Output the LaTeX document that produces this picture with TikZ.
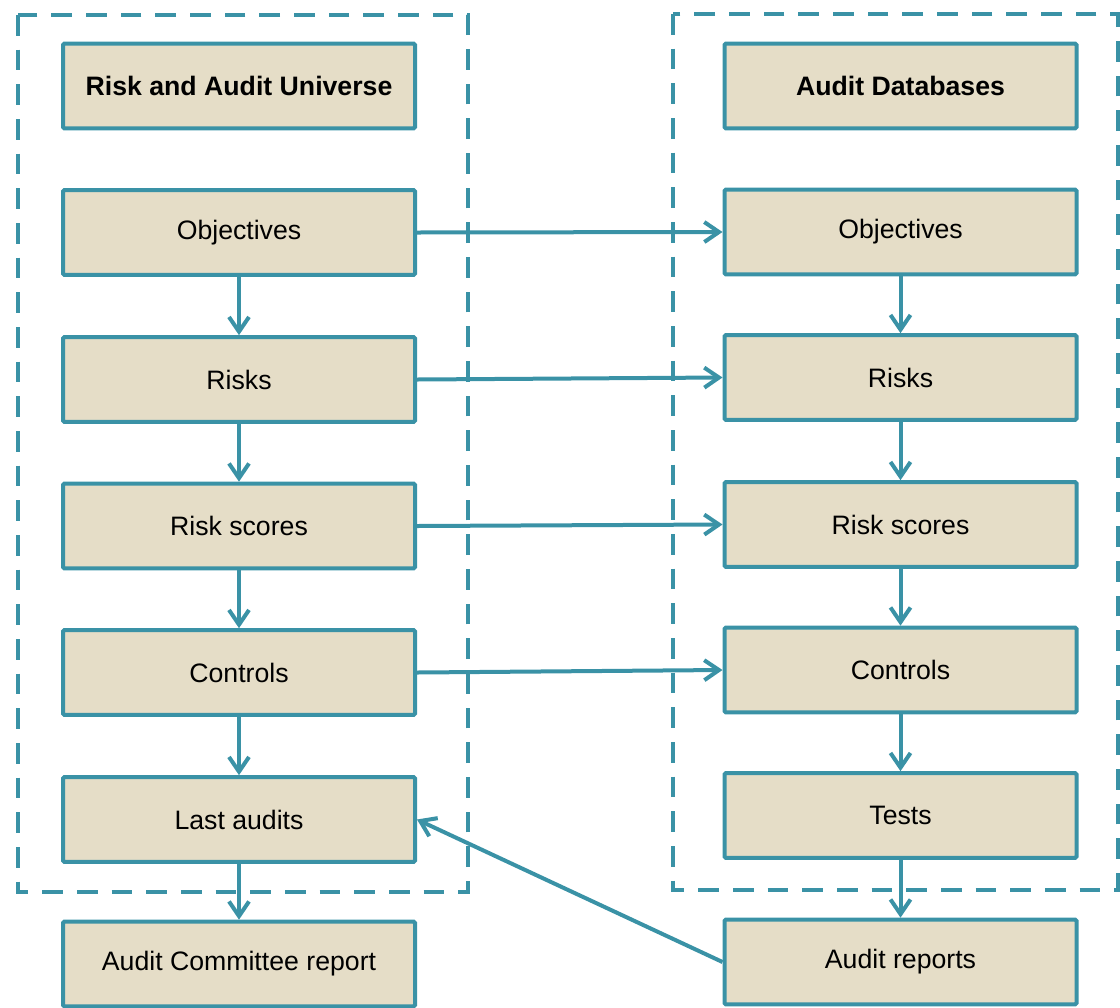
\documentclass[tikz,border=0pt]{standalone}
\usepackage{fontspec}
\setmainfont{Liberation Sans}
\usetikzlibrary{arrows.meta}
\definecolor{teal1}{RGB}{58,146,166}
\definecolor{beige1}{RGB}{229,221,199}
\begin{document}
\begin{tikzpicture}[x=0.75pt,y=-0.75pt,
  stepbox/.style={draw=teal1,fill=beige1,line width=3pt,rounded corners=1pt,
    minimum width=264pt,minimum height=63.5pt,inner sep=0pt,font=\fontsize{20}{24}\selectfont},
  titlebox/.style={stepbox,font=\fontsize{20}{24}\selectfont\bfseries},
  group/.style={draw=teal1,line width=3pt,dash pattern=on 15.5pt off 10.5pt},
  link/.style={draw=teal1,line width=3pt,-{Straight Barb[length=11pt,width=15pt,line width=3pt]}}]
\useasboundingbox (0,0) rectangle (1120,1007);
\draw[group] (18,15) rectangle (468,892);
\draw[group] (673,14) rectangle (1118,890);
% left column
\node[titlebox] (lt) at (239,86) {Risk and Audit Universe};
\node[stepbox] (lo) at (239,232.5) {Objectives};
\node[stepbox] (lr) at (239,379.5) {Risks};
\node[stepbox] (ls) at (239,526) {Risk scores};
\node[stepbox] (lc) at (239,672.5) {Controls};
\node[stepbox] (la) at (239,819.5) {Last audits};
\node[stepbox] (lq) at (239,964) {Audit Committee report};
% right column
\node[titlebox] (rt) at (900.5,86) {Audit Databases};
\node[stepbox] (ro) at (900.5,232) {Objectives};
\node[stepbox] (rr) at (900.5,377.5) {Risks};
\node[stepbox] (rs) at (900.5,524.5) {Risk scores};
\node[stepbox] (rc) at (900.5,670) {Controls};
\node[stepbox] (rx) at (900.5,815.5) {Tests};
\node[stepbox] (ra) at (900.5,962) {Audit reports};
% vertical links
\draw[link] (lo) -- (lr);
\draw[link] (lr) -- (ls);
\draw[link] (ls) -- (lc);
\draw[link] (lc) -- (la);
\draw[link] (la) -- (lq);
\draw[link] (ro) -- (rr);
\draw[link] (rr) -- (rs);
\draw[link] (rs) -- (rc);
\draw[link] (rc) -- (rx);
\draw[link] (rx) -- (ra);
% horizontal links
\draw[link] (lo.east) -- (ro.west);
\draw[link] (lr.east) -- (rr.west);
\draw[link] (ls.east) -- (rs.west);
\draw[link] (lc.east) -- (rc.west);
\draw[link] (ra.west) -- (la.east);
\end{tikzpicture}
\end{document}
